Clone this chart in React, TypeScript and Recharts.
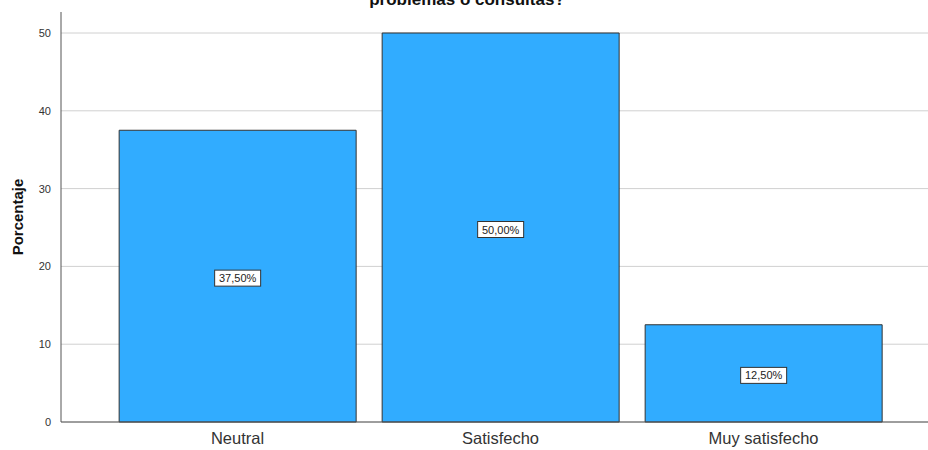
import React from "react"
import { BarChart, Bar, XAxis, YAxis, CartesianGrid, LabelList, Label } from "recharts"

const categorias = ["Neutral", "Satisfecho", "Muy satisfecho"]
const porcentajes = [37.5, 50, 12.5]
const ticksY = [0, 10, 20, 30, 40, 50]
const maxY = 52.7

const datos = categorias.map((cat, i) => ({ categoria: cat, porcentaje: porcentajes[i] }))

const fuente = "'Liberation Sans', Arial, sans-serif"

// etiqueta con recuadro blanco en el centro de cada barra
const EtiquetaValor = (props: any) => {
  const { x, y, width, height, value } = props
  const texto = `${Number(value).toFixed(2).replace(".", ",")}%`
  const cx = x + width / 2
  const cy = y + height / 2
  const w = 46
  const h = 16
  return (
    <g>
      <rect x={cx - w / 2} y={cy - h / 2 + 2} width={w} height={h} fill="#ffffff" stroke="#333333" strokeWidth={1} />
      <text x={cx} y={cy + 6} textAnchor="middle" fontSize={11} fontFamily={fuente} fill="#222222">
        {texto}
      </text>
    </g>
  )
}

// líneas de la rejilla sólo en los ticks del eje Y (sin línea en el borde superior)
const lineasRejilla = ({ yAxis, offset }: any) => {
  const s = yAxis?.scale
  return ticksY.map((t) => {
    if (typeof s === "function") return s(t)
    if (s && typeof s.map === "function") return s.map(t)
    return offset.top + offset.height * (1 - t / maxY)
  })
}

export default function App() {
  return (
    <div style={{ position: "absolute", left: 0, top: 0, width: 928, height: 450, background: "#fff", overflow: "hidden" }}>
      <div
        style={{
          position: "absolute",
          top: -10,
          left: 0,
          width: 934,
          textAlign: "center",
          fontFamily: fuente,
          fontWeight: "bold",
          fontSize: 17,
          color: "#111",
        }}
      >
        problemas o consultas?
      </div>
      <BarChart
        width={928}
        height={450}
        data={datos}
        margin={{ top: 12, right: 0, left: 0, bottom: 0 }}
        barCategoryGap="5%"
      >
        <CartesianGrid vertical={false} stroke="#d0d0d0" horizontalCoordinatesGenerator={lineasRejilla} />
        <XAxis
          dataKey="categoria"
          height={28}
          padding={{ left: 45, right: 33 }}
          tickLine={false}
          axisLine={{ stroke: "#555555" }}
          tick={{ fill: "#333333", fontSize: 16.5, fontFamily: fuente }}
          tickMargin={4}
        />
        <YAxis
          width={61}
          domain={[0, maxY]}
          ticks={ticksY}
          tickLine={false}
          axisLine={{ stroke: "#555555" }}
          tick={{ fill: "#333333", fontSize: 11, fontFamily: fuente }}
          tickMargin={4}
        >
          <Label
            value="Porcentaje"
            angle={-90}
            position="insideLeft"
            offset={18}
            style={{ fontFamily: fuente, fontWeight: "bold", fontSize: 15, fill: "#111", textAnchor: "middle" }}
          />
        </YAxis>
        <Bar dataKey="porcentaje" fill="#31acff" stroke="#333333" strokeWidth={1} isAnimationActive={false}>
          <LabelList dataKey="porcentaje" content={<EtiquetaValor />} />
        </Bar>
      </BarChart>
    </div>
  )
}
